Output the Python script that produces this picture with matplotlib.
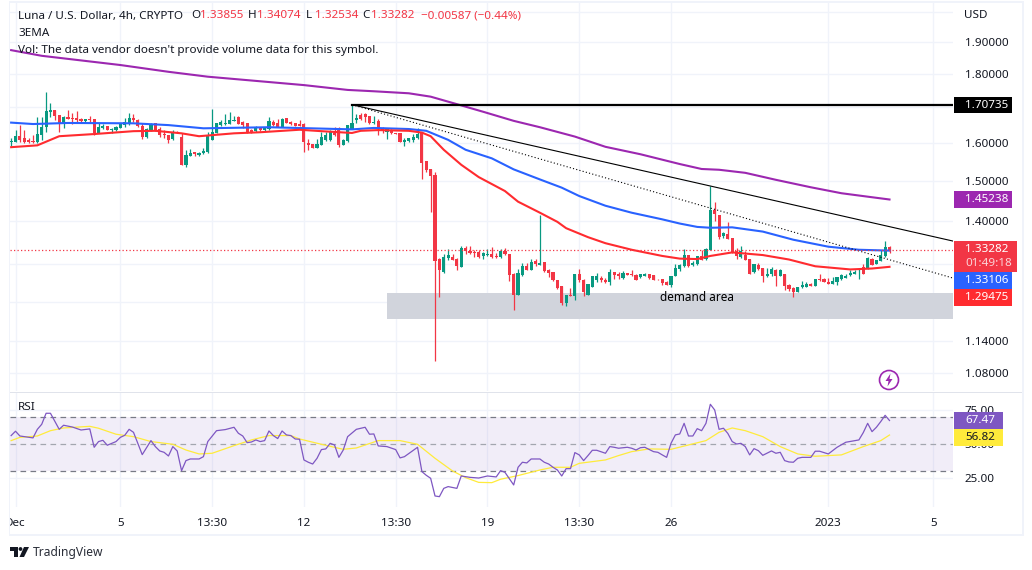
import numpy as np
import matplotlib
matplotlib.use("Agg")
import matplotlib.pyplot as plt
from matplotlib.patches import Rectangle, Circle, Polygon
from matplotlib.transforms import Bbox, IdentityTransform

plt.rcParams['font.family'] = ['Noto Sans', 'DejaVu Sans']

# === Candles, 4h, first one is just before Dec 1 ===
opens = [1.601,
    1.603, 1.619, 1.614, 1.608, 1.605, 1.603, 1.621, 1.643, 1.686, 1.692,
    1.677, 1.654, 1.671, 1.669, 1.669, 1.666, 1.661, 1.666, 1.665, 1.628,
    1.642, 1.646, 1.634, 1.635, 1.642, 1.649, 1.654, 1.669, 1.663, 1.646,
    1.617, 1.632, 1.654, 1.637, 1.624, 1.621, 1.610, 1.631, 1.615, 1.541,
    1.564, 1.574, 1.567, 1.573, 1.575, 1.608, 1.628, 1.649, 1.652, 1.652,
    1.661, 1.672, 1.658, 1.654, 1.635, 1.633, 1.642, 1.635, 1.637, 1.658,
    1.654, 1.643, 1.668, 1.657, 1.656, 1.651, 1.651, 1.599, 1.597, 1.587,
    1.595, 1.608, 1.608, 1.626, 1.635, 1.595, 1.605, 1.638, 1.663, 1.679,
    1.680, 1.674, 1.654, 1.660, 1.640, 1.631, 1.634, 1.628, 1.626, 1.601,
    1.605, 1.608, 1.612, 1.628, 1.551, 1.530, 1.515, 1.313, 1.284, 1.315,
    1.316, 1.313, 1.294, 1.336, 1.330, 1.329, 1.327, 1.320, 1.322, 1.324,
    1.320, 1.316, 1.330, 1.324, 1.278, 1.234, 1.276, 1.2975, 1.287, 1.307,
    1.298, 1.305, 1.287, 1.283, 1.267, 1.253, 1.2165, 1.235, 1.232, 1.278,
    1.265, 1.235, 1.251, 1.267, 1.2707, 1.267, 1.2615, 1.283, 1.279, 1.271,
    1.282, 1.279, 1.277, 1.272, 1.275, 1.278, 1.276, 1.267, 1.2671, 1.2614,
    1.2543, 1.2743, 1.2910, 1.2962, 1.322, 1.2977, 1.2999, 1.3184, 1.3124, 1.3319,
    1.4273, 1.4153, 1.364, 1.3704, 1.3609, 1.3297, 1.3162, 1.3222, 1.3132, 1.283,
    1.2984, 1.2925, 1.2743, 1.280, 1.2888, 1.2743, 1.280, 1.2543, 1.2486, 1.2408,
    1.2507, 1.2514, 1.2564, 1.2529, 1.2685, 1.2685, 1.2621, 1.2571, 1.2614, 1.2671,
    1.2707, 1.2765, 1.2779, 1.2779, 1.2940, 1.291, 1.3132, 1.2999, 1.3087, 1.3199,
    1.33855]
highs = [1.612,
    1.635, 1.650, 1.634, 1.614, 1.621, 1.671, 1.673, 1.745, 1.711, 1.692,
    1.677, 1.674, 1.692, 1.682, 1.688, 1.668, 1.666, 1.674, 1.665, 1.656,
    1.651, 1.646, 1.642, 1.647, 1.654, 1.668, 1.682, 1.680, 1.666, 1.654,
    1.640, 1.654, 1.656, 1.644, 1.634, 1.621, 1.634, 1.633, 1.626, 1.581,
    1.583, 1.574, 1.575, 1.587, 1.630, 1.695, 1.656, 1.663, 1.680, 1.685,
    1.674, 1.674, 1.660, 1.654, 1.637, 1.646, 1.642, 1.643, 1.671, 1.663,
    1.665, 1.668, 1.668, 1.660, 1.656, 1.663, 1.654, 1.610, 1.597, 1.610,
    1.631, 1.631, 1.634, 1.643, 1.643, 1.610, 1.649, 1.7073, 1.680, 1.682,
    1.682, 1.674, 1.676, 1.666, 1.644, 1.637, 1.637, 1.628, 1.628, 1.612,
    1.614, 1.624, 1.640, 1.628, 1.551, 1.530, 1.521, 1.315, 1.324, 1.335,
    1.324, 1.315, 1.3425, 1.3425, 1.3425, 1.333, 1.333, 1.327, 1.335, 1.339,
    1.326, 1.335, 1.337, 1.324, 1.282, 1.291, 1.3035, 1.3035, 1.313, 1.313,
    1.414, 1.3055, 1.290, 1.283, 1.267, 1.253, 1.235, 1.248, 1.278, 1.291,
    1.268, 1.257, 1.2757, 1.282, 1.274, 1.2707, 1.290, 1.283, 1.283, 1.2845,
    1.282, 1.287, 1.279, 1.280, 1.281, 1.278, 1.276, 1.268, 1.2685, 1.2628,
    1.2757, 1.3014, 1.2999, 1.335, 1.322, 1.3087, 1.3199, 1.3334, 1.338, 1.4869,
    1.4461, 1.4153, 1.3742, 1.3977, 1.3609, 1.3372, 1.3425, 1.3297, 1.3132, 1.3014,
    1.3036, 1.2925, 1.2925, 1.2947, 1.2903, 1.2903, 1.280, 1.2564, 1.2507, 1.2514,
    1.2628, 1.2621, 1.2592, 1.2685, 1.2793, 1.2707, 1.2707, 1.2721, 1.2721, 1.280,
    1.2793, 1.2873, 1.2873, 1.2925, 1.3014, 1.3162, 1.3147, 1.3109, 1.3334, 1.354,
    1.34074]
lows = [1.590,
    1.602, 1.601, 1.599, 1.599, 1.599, 1.599, 1.608, 1.631, 1.673, 1.663,
    1.630, 1.642, 1.666, 1.652, 1.654, 1.654, 1.658, 1.659, 1.620, 1.626,
    1.637, 1.634, 1.626, 1.633, 1.642, 1.644, 1.649, 1.659, 1.644, 1.610,
    1.614, 1.632, 1.632, 1.615, 1.612, 1.599, 1.608, 1.626, 1.541, 1.535,
    1.564, 1.564, 1.564, 1.570, 1.573, 1.608, 1.626, 1.647, 1.649, 1.652,
    1.660, 1.651, 1.642, 1.626, 1.628, 1.631, 1.633, 1.633, 1.635, 1.646,
    1.643, 1.643, 1.655, 1.648, 1.647, 1.646, 1.576, 1.581, 1.586, 1.585,
    1.593, 1.606, 1.606, 1.619, 1.588, 1.594, 1.603, 1.637, 1.656, 1.663,
    1.658, 1.652, 1.651, 1.621, 1.628, 1.610, 1.624, 1.625, 1.603, 1.592,
    1.603, 1.603, 1.610, 1.505, 1.522, 1.421, 1.103, 1.229, 1.282, 1.311,
    1.311, 1.287, 1.294, 1.324, 1.324, 1.317, 1.3155, 1.313, 1.318, 1.3155,
    1.3155, 1.3155, 1.322, 1.2635, 1.2025, 1.233, 1.2757, 1.288, 1.2867, 1.2975,
    1.298, 1.284, 1.272, 1.263, 1.2457, 1.2125, 1.2105, 1.231, 1.2233, 1.2615,
    1.232, 1.235, 1.2505, 1.2615, 1.2615, 1.259, 1.255, 1.268, 1.269, 1.269,
    1.276, 1.274, 1.266, 1.271, 1.274, 1.269, 1.265, 1.265, 1.2543, 1.2543,
    1.2507, 1.2736, 1.2852, 1.2947, 1.2947, 1.2962, 1.2992, 1.3109, 1.3109, 1.3319,
    1.3993, 1.3586, 1.360, 1.3586, 1.3259, 1.3124, 1.3147, 1.3109, 1.280, 1.2822,
    1.2888, 1.2614, 1.2729, 1.2743, 1.2529, 1.2743, 1.2443, 1.2422, 1.2303, 1.2408,
    1.2493, 1.2514, 1.2522, 1.2529, 1.2643, 1.2607, 1.2564, 1.2564, 1.2557, 1.2657,
    1.270, 1.2757, 1.2779, 1.2671, 1.2779, 1.2903, 1.2977, 1.2999, 1.3073, 1.3162,
    1.32534]
closes = [1.605,
    1.619, 1.608, 1.603, 1.603, 1.603, 1.624, 1.644, 1.689, 1.692, 1.675,
    1.654, 1.671, 1.666, 1.666, 1.663, 1.661, 1.666, 1.664, 1.626, 1.644,
    1.647, 1.634, 1.638, 1.644, 1.652, 1.657, 1.669, 1.662, 1.646, 1.617,
    1.637, 1.651, 1.634, 1.622, 1.620, 1.608, 1.631, 1.626, 1.541, 1.567,
    1.573, 1.570, 1.572, 1.579, 1.619, 1.630, 1.654, 1.658, 1.656, 1.663,
    1.663, 1.652, 1.648, 1.628, 1.629, 1.642, 1.634, 1.640, 1.660, 1.649,
    1.643, 1.666, 1.655, 1.653, 1.647, 1.647, 1.601, 1.594, 1.587, 1.597,
    1.616, 1.620, 1.632, 1.621, 1.595, 1.608, 1.649, 1.654, 1.669, 1.665,
    1.673, 1.654, 1.659, 1.637, 1.634, 1.637, 1.626, 1.625, 1.603, 1.608,
    1.612, 1.617, 1.624, 1.547, 1.528, 1.513, 1.307, 1.288, 1.317, 1.322,
    1.311, 1.296, 1.336, 1.330, 1.325, 1.325, 1.3175, 1.325, 1.324, 1.3175,
    1.316, 1.331, 1.323, 1.276, 1.234, 1.282, 1.2975, 1.288, 1.306, 1.300,
    1.304, 1.285, 1.281, 1.265, 1.248, 1.217, 1.235, 1.231, 1.278, 1.267,
    1.2395, 1.257, 1.274, 1.274, 1.265, 1.262, 1.283, 1.276, 1.274, 1.282,
    1.277, 1.276, 1.267, 1.279, 1.279, 1.271, 1.266, 1.266, 1.2586, 1.2557,
    1.2757, 1.2925, 1.2977, 1.322, 1.297, 1.3036, 1.3199, 1.3109, 1.3357, 1.4273,
    1.4169, 1.3624, 1.372, 1.3586, 1.3274, 1.3184, 1.3297, 1.3109, 1.280, 1.3014,
    1.2903, 1.2743, 1.280, 1.2903, 1.2743, 1.2888, 1.2529, 1.2457, 1.2408, 1.2514,
    1.2557, 1.2564, 1.2529, 1.2671, 1.2657, 1.2607, 1.2571, 1.2628, 1.2714, 1.2765,
    1.2757, 1.2815, 1.2837, 1.2793, 1.280, 1.3147, 1.2984, 1.3109, 1.3222, 1.3395,
    1.33282]

# === EMAs, read at the bends ===
ema_red_idx = [-1, 5, 10, 18, 27, 32, 38, 42, 50, 56, 65, 70, 77, 79, 83, 90, 93, 95, 98, 102, 106, 112,
               115, 120, 124, 126, 131, 135, 141, 148, 152, 156, 159, 164, 171, 177, 183, 191, 196, 200]
ema_red = [1.588, 1.593, 1.618, 1.624, 1.632, 1.633, 1.626, 1.618, 1.626, 1.629, 1.636, 1.632, 1.627, 1.633,
           1.635, 1.633, 1.628, 1.618, 1.581, 1.541, 1.509, 1.4735, 1.447, 1.420, 1.398, 1.383, 1.362, 1.348,
           1.333, 1.319, 1.313, 1.312, 1.319, 1.327, 1.321, 1.311, 1.296, 1.289, 1.291, 1.29475]
ema_blue_idx = [-1, 4, 12, 27, 35, 43, 58, 77, 82, 90, 94, 99, 103, 109, 114, 120, 125, 129, 135, 141, 148,
                152, 156, 159, 164, 171, 178, 186, 193, 200]
ema_blue = [1.656, 1.652, 1.655, 1.654, 1.649, 1.640, 1.643, 1.637, 1.641, 1.638, 1.633, 1.608, 1.581, 1.558,
            1.529, 1.503, 1.482, 1.461, 1.437, 1.420, 1.404, 1.394, 1.386, 1.384, 1.385, 1.375, 1.356, 1.340,
            1.333, 1.33106]
ema_purple_idx = [-1, 6, 24, 35, 44, 66, 76, 82, 90, 95, 101, 107, 114, 120, 128, 135, 143, 152, 157,
                  161, 167, 174, 182, 189, 196, 200]
ema_purple = [1.874, 1.856, 1.827, 1.806, 1.791, 1.7655, 1.751, 1.747, 1.741, 1.731, 1.709, 1.687,
              1.661, 1.643, 1.617, 1.589, 1.569, 1.543, 1.530, 1.528, 1.520, 1.502, 1.483, 1.468, 1.458, 1.45238]

# === Drawings ===
resistance = 1.70735
last_price = 1.33282
trend_idx = [77, 214.5]
trend_solid = [1.70735, 1.353]
trend_dotted = [1.70735, 1.2702]
demand_idx = [85, 214.5]
demand_low = 1.1843
demand_high = 1.2381

# === RSI ===
rsi_idx = [-1, 0, 1, 4, 5, 6, 7, 8, 10, 11, 13, 15, 17, 18, 19, 20, 21, 23, 24, 25, 26, 27, 29, 31, 32, 33, 34,
           35, 36, 37, 38, 39, 40, 42, 43, 44, 46, 48, 50, 51, 52, 53, 54, 55, 56, 57, 58, 59, 60, 61, 62, 63,
           64, 65, 66, 67, 68, 69, 70, 71, 72, 73, 74, 75, 76, 78, 80, 81, 82, 83, 85, 87, 88, 89, 92, 93, 94,
           95, 96, 97, 98, 99, 101, 102, 104, 106, 108, 110, 111, 112, 114, 115, 116, 117, 118, 120, 121, 122,
           123, 124, 125, 126, 127, 128, 129, 130, 131, 132, 133, 135, 136, 137, 138, 140, 141, 142, 143, 144,
           146, 147, 148, 149, 150, 151, 152, 153, 154, 155, 156, 157, 158, 159, 160, 161, 162, 163, 164, 165,
           166, 167, 168, 169, 170, 171, 173, 174, 175, 176, 177, 178, 179, 180, 182, 183, 184, 186, 188, 190,
           193, 194, 195, 196, 197, 198, 199, 200]
rsi = [56.4, 59.6, 56.1, 54.7, 61.0, 64.7, 72.8, 72.8, 61.0, 64.0, 62.7, 60.5, 61.3, 47.8, 52.0, 52.9, 49.3, 52.0,
       55.1, 56.6, 61.0, 58.8, 42.4, 52.7, 48.3, 45.1, 44.1, 41.4, 48.3, 45.1, 30.6, 38.0, 39.2, 39.2, 40.9, 52.0,
       60.0, 60.8, 62.5, 58.1, 56.1, 51.2, 51.7, 53.2, 52.0, 52.7, 59.8, 56.4, 54.2, 59.8, 56.9, 56.4, 53.9, 53.7,
       38.5, 36.8, 35.5, 39.7, 46.1, 46.6, 50.7, 49.5, 40.4, 45.8, 55.6, 61.0, 62.5, 57.4, 57.6, 48.8, 48.3, 46.1,
       40.0, 40.9, 47.8, 29.9, 27.2, 25.0, 12.0, 11.5, 17.6, 18.9, 17.6, 26.7, 25.7, 25.2, 26.7, 26.0, 30.6, 29.4,
       20.1, 33.1, 36.8, 36.3, 39.2, 39.2, 36.8, 35.5, 33.1, 31.1, 26.7, 32.1, 32.1, 43.9, 42.2, 38.0, 41.7, 45.6,
       45.6, 43.4, 48.3, 47.8, 47.1, 47.8, 47.1, 45.8, 47.5, 47.8, 44.6, 44.1, 42.2, 40.4, 50.7, 56.9, 57.6, 65.4,
       56.1, 56.1, 61.5, 60.0, 65.4, 79.4, 75.2, 61.0, 61.8, 58.0, 52.0, 50.2, 50.7, 48.3, 42.2, 46.8, 45.3, 41.9,
       45.1, 43.4, 44.1, 38.0, 37.0, 36.8, 39.7, 40.4, 40.4, 44.9, 44.9, 42.9, 47.8, 51.5, 53.2, 58.6, 65.4, 59.3,
       62.5, 66.7, 71.3, 67.47]
rsi_ma_idx = [-1, 1, 5, 8, 11, 17, 19, 23, 27, 31, 36, 39, 42, 45, 50, 54, 58, 63, 65, 70, 75, 78, 83, 88, 92, 96,
              100, 103, 106, 109, 111, 115, 120, 123, 127, 129, 135, 138, 141, 145, 150, 154, 158, 161, 164, 167,
              171, 175, 179, 183, 189, 194, 198, 200]
rsi_ma = [52.7, 55.1, 56.1, 60.0, 62.0, 63.2, 61.8, 57.4, 55.6, 52.0, 50.0, 45.8, 42.9, 43.4, 49.0, 53.2, 56.4,
          56.4, 53.9, 50.0, 46.3, 47.3, 52.7, 52.7, 50.0, 39.7, 30.4, 25.5, 22.0, 21.8, 24.3, 27.0, 31.1, 33.1,
          33.1, 36.0, 38.5, 41.7, 44.6, 46.6, 46.3, 49.5, 52.7, 58.8, 62.0, 60.0, 55.6, 48.3, 42.9, 41.2, 42.2,
          48.3, 52.7, 56.82]

# === Axis labels ===
time_ticks = [0, 24, 45, 66, 87, 108, 129, 150, 186, 210]
time_labels = ['Dec', '5', '13:30', '12', '13:30', '19', '13:30', '26', '2023', '5']
price_grid = [2.0, 1.9, 1.8, 1.7, 1.6, 1.5, 1.4, 1.3, 1.22, 1.14, 1.08]
price_labels = ['', '1.90000', '1.80000', '', '1.60000', '1.50000', '1.40000', '', '', '1.14000', '1.08000']
rsi_grid = [75, 25]

# === Colours ===
UP = '#089981'
DOWN = '#f23645'
TEXT = '#131722'
GRID = '#f0f3fa'
RED = '#ff2b2f'
BLUE = '#2962ff'
PURPLE = '#9c27b0'
RSI_C = '#7e57c2'
YELLOW = '#ffeb3b'
W, H = 1032, 570
FS = 8.4

fig = plt.figure(figsize=(W / 100, H / 100), dpi=100, facecolor='white')


def pane(top, bottom):
    return fig.add_axes([10 / W, 1 - bottom / H, 943 / W, (bottom - top) / H])


ax = pane(3, 391)
ax2 = pane(393, 507)

# === Price pane ===
idx = np.arange(-1, 201)
o, h, l, c = map(np.array, (opens, highs, lows, closes))
colors = np.where(c >= o, UP, DOWN)

ax.set_yscale('log')
ax.vlines(idx, l, h, colors=colors, linewidth=0.9, zorder=3)
ax.bar(idx, np.abs(c - o), bottom=np.minimum(o, c), width=0.72, color=colors, linewidth=0, zorder=3)

ax.fill_between(demand_idx, demand_low, demand_high, color='#d1d4dc', linewidth=0, zorder=2)
ax.text(156, 1.228, 'demand area', ha='center', va='center', fontsize=8.5, color='#000000',
        fontweight='medium', zorder=6)

ax.plot(ema_purple_idx, ema_purple, color=PURPLE, linewidth=1.5, zorder=4)
ax.plot(ema_blue_idx, ema_blue, color=BLUE, linewidth=1.5, zorder=4)
ax.plot(ema_red_idx, ema_red, color=RED, linewidth=1.5, zorder=4)
ax.plot(trend_idx, [resistance, resistance], color='black', linewidth=1.6, zorder=5)
ax.plot(trend_idx, trend_solid, color='black', linewidth=0.8, zorder=5)
ax.plot(trend_idx, trend_dotted, color='black', linewidth=0.8, linestyle=(0, (1, 2)), zorder=5)
ax.axhline(last_price, color=DOWN, linewidth=0.9, linestyle=(0, (1, 1.8)), zorder=5)

ax.set_xlim(-1.26, 214.53)
ax.set_ylim(1.0475, 2.031)
ax.set_yticks(price_grid)
ax.set_yticklabels(price_labels)
ax.minorticks_off()
ax.set_xticks(time_ticks)
ax.tick_params(axis='x', length=0, labelbottom=False)
ax.yaxis.tick_right()
ax.tick_params(axis='y', length=0, pad=8.5, labelsize=FS, labelcolor=TEXT)
ax.grid(True, color=GRID, linewidth=1.0, zorder=0)
ax.set_axisbelow(True)
for s in ax.spines.values():
    s.set_visible(False)

# === RSI pane ===
ax2.axhspan(30, 70, color=RSI_C, alpha=0.1, linewidth=0, zorder=1)
for level, col in [(70, '#787b86'), (50, '#a3a6af'), (30, '#787b86')]:
    ax2.axhline(level, color=col, linewidth=0.9, linestyle=(0, (4.5, 3.5)), zorder=2)
ax2.plot(rsi_ma_idx, rsi_ma, color=YELLOW, linewidth=0.9, zorder=3)
ax2.plot(rsi_idx, rsi, color=RSI_C, linewidth=0.9, zorder=4)
ax2.set_xlim(-1.26, 214.53)
ax2.set_ylim(3.9, 87.7)
ax2.set_yticks([75, 50, 25])
ax2.set_yticklabels(['75.00', '50.00', '25.00'])
ax2.yaxis.tick_right()
ax2.tick_params(axis='y', length=0, pad=8.5, labelsize=FS, labelcolor=TEXT)
ax2.set_xticks(time_ticks)
ax2.set_xticklabels(time_labels)
ax2.tick_params(axis='x', length=0, pad=8, labelsize=FS, labelcolor=TEXT)
for lab in ax2.get_xticklabels():
    if lab.get_text() == '2023':
        lab.set_fontweight('bold')
    # the Dec label is cut off by the pane edge
    lab.set_clip_box(Bbox([[10, 0], [1022, 100]]))
    lab.set_clip_on(True)
for yg in rsi_grid:
    ax2.axhline(yg, color=GRID, linewidth=1.0, zorder=0)
ax2.grid(True, axis='x', color=GRID, linewidth=1.0, zorder=0)
ax2.set_axisbelow(True)
for s in ax2.spines.values():
    s.set_visible(False)


# === Overlay helpers, pixel coords from top-left ===
def box(x0, x1, y0, y1, color, zorder=20):
    fig.add_artist(Rectangle((x0, H - y1), x1 - x0, y1 - y0, transform=IdentityTransform(),
                             facecolor=color, edgecolor='none', zorder=zorder))


def label(x, y, s, color=TEXT, size=FS, ha='left', weight='normal', zorder=21):
    fig.text(x / W, 1 - y / H, s, color=color, fontsize=size, ha=ha, va='center', fontweight=weight, zorder=zorder)


# === Frame ===
box(9, 10, 1, 536, GRID, 1)
box(9, 1024, 1, 3, GRID, 1)
box(9, 1024, 534, 536, GRID, 1)
box(1022, 1024, 1, 536, GRID, 1)
box(10, 1022, 391.5, 392.5, '#e0e3eb', 1)

# === Price scale tags ===
label(964, 15, 'USD')
tags = [(97, 113, 1012, 'black', '1.70735'), (191, 208, 1012, PURPLE, '1.45238'),
        (272, 289, 1012, BLUE, '1.33106'), (289, 306, 1012, RED, '1.29475')]
for y0, y1, x1, col, s in tags:
    box(954, x1, y0, y1, col)
    label(965, (y0 + y1) / 2, s, color='white')
box(954, 1017, 241, 272, DOWN)
label(965, 249.5, '1.33282', color='white')
label(965, 263, '01:49:18', color='#fbd3d7')
box(954, 1003, 412, 429, RSI_C)
label(965, 420.5, '67.47', color='white')
box(954, 1003, 429, 446, YELLOW)
label(965, 437.5, '56.82', color=TEXT)

# === Header ===
label(18, 16, 'Luna / U.S. Dollar, 4h, CRYPTO')
for x, name, val in [(191, 'O', '1.33855'), (248, 'H', '1.34074'), (306, 'L', '1.32534'), (362, 'C', '1.33282')]:
    label(x, 16, name)
    label(x + 9, 16, val, color=DOWN)
label(421, 16, '\u22120.00587 (\u22120.44%)', color=DOWN)
label(18, 33, '3EMA')
label(18, 51, "Vol: The data vendor doesn't provide volume data for this symbol.")
label(18, 407, 'RSI')

# === Flash icon ===
fig.add_artist(Circle((889, H - 380), 9.5, transform=IdentityTransform(), fill=False, edgecolor=PURPLE,
                      linewidth=1.2, zorder=22))
fig.add_artist(Polygon([(890.5, H - 373.5), (885.5, H - 381), (888.5, H - 381), (887.5, H - 386.5),
                        (892.5, H - 379), (889.5, H - 379)], transform=IdentityTransform(),
                       facecolor=PURPLE, edgecolor='none', zorder=22))

# === TradingView logo ===
logo = '#131722'
box(10, 17.5, 547, 550.5, logo, 5)
box(13.5, 17.5, 547, 557, logo, 5)
fig.add_artist(Circle((20.5, H - 549), 1.9, transform=IdentityTransform(), facecolor=logo, edgecolor='none', zorder=5))
fig.add_artist(Polygon([(19.5, H - 557), (24, H - 547), (29, H - 547), (24, H - 557)], transform=IdentityTransform(),
                       facecolor=logo, edgecolor='none', zorder=5))
label(33, 552.5, 'TradingView', color='#2a2e39', size=8.7)

fig.savefig('out.png', dpi=100)
